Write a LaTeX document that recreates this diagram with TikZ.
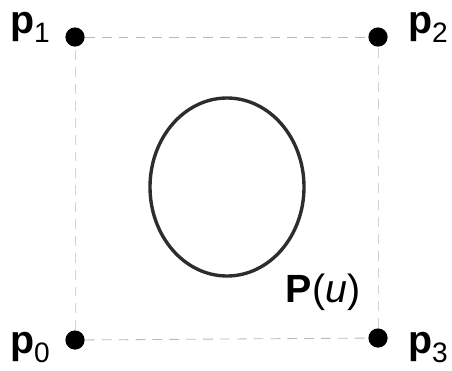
\documentclass[tikz,border=0pt]{standalone}
\usepackage{fontspec}
\setmainfont{Liberation Sans}
\newcommand{\subidx}[1]{\raisebox{-7pt}{\fontsize{20}{20}\selectfont\mdseries #1}}
\tikzset{
  ctrl/.style = {circle, fill = black, inner sep = 0pt, minimum size = 0.48cm},
  lbl/.style = {inner sep = 0pt, font = \fontsize{28}{30}\selectfont\bfseries},
  hull/.style = {gray!55, line width = 0.6pt, dash pattern = on 7pt off 5pt},
}
\begin{document}
\begin{tikzpicture}[x = 0.025cm, y = -0.025cm]
			\useasboundingbox (0,0) rectangle (452,370);
			
			\node[ctrl] (p0) at (75,340) {};
			\node[ctrl] (p1) at (75,37) {};
			\node[ctrl] (p2) at (378,37) {};
			\node[ctrl] (p3) at (378,338) {};
			
			\node[lbl, anchor=base] (l0) at (30,353) {p\subidx{0}};
			\node[lbl, anchor=base] (l1) at (30,33) {p\subidx{1}};
			\node[lbl, anchor=base] (l2) at (428,33) {p\subidx{2}};
			\node[lbl, anchor=base] (l3) at (428,353) {p\subidx{3}};
			
			\draw[hull] (p1) -- (p2);
			\draw[hull] (p0) -- (p3);
			\draw[hull, gray!35] (p0) -- (p1);
			\draw[hull, gray!35] (p3) -- (p2);
			
			\coordinate (c) at (227,187);
			\draw[gray!35!black, line width = 2.4pt] (c) ellipse [x radius = 77, y radius = 89];
			\node[lbl, anchor=base] (pu) at (323,302) {P\mdseries(\textit{u})};
		\end{tikzpicture}
\end{document}
